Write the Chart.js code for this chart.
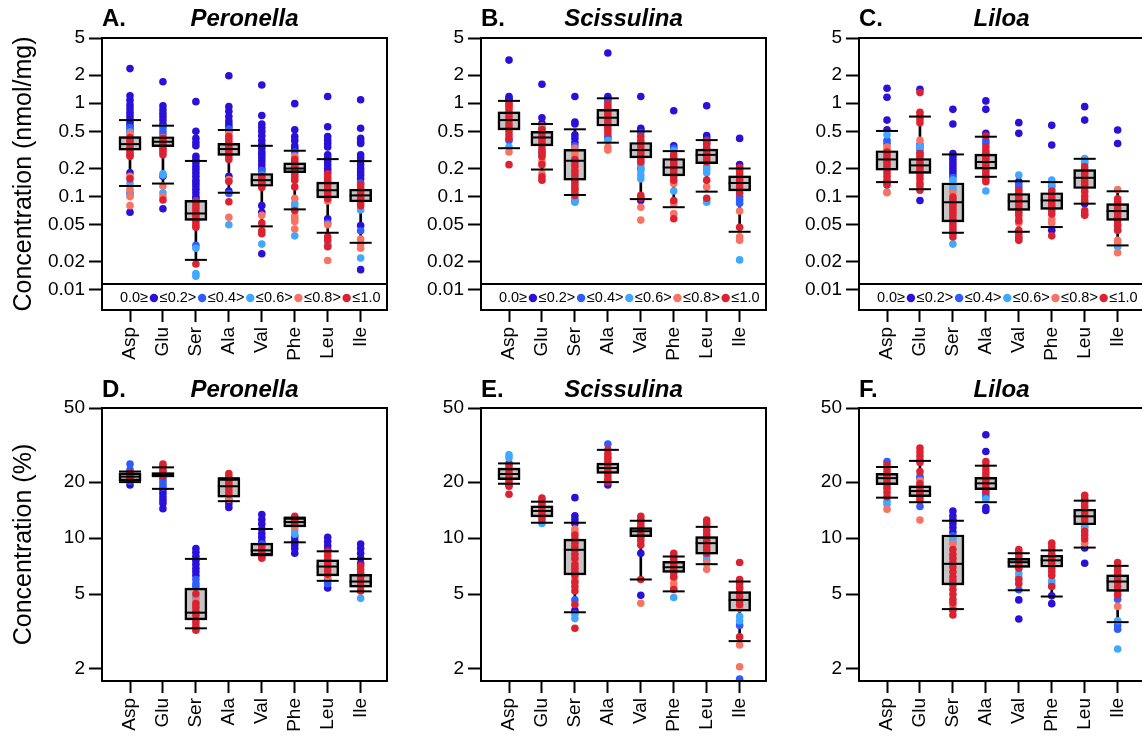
<!DOCTYPE html>
<html>
<head>
<meta charset="utf-8">
<script src="https://cdn.jsdelivr.net/npm/chart.js@4.4.1/dist/chart.umd.min.js"></script>
<style>
  html, body { margin: 0; padding: 0; background: #fff; width: 1142px; height: 737px; overflow: hidden; position: relative; }
  canvas { position: absolute; }
</style>
</head>
<body>
<canvas id="panelA" width="400" height="370" style="left:0px;top:0px"></canvas>
<canvas id="panelB" width="400" height="370" style="left:379px;top:0px"></canvas>
<canvas id="panelC" width="400" height="370" style="left:757px;top:0px"></canvas>
<canvas id="panelD" width="400" height="370" style="left:0px;top:370px"></canvas>
<canvas id="panelE" width="400" height="370" style="left:379px;top:370px"></canvas>
<canvas id="panelF" width="400" height="370" style="left:757px;top:370px"></canvas>
<script>
// ---------------------------------------------------------
// DATA
// ---------------------------------------------------------
const aminoAcids = ['Asp', 'Glu', 'Ser', 'Ala', 'Val', 'Phe', 'Leu', 'Ile'];
const fractionLabels = ['0.0≥', '≤0.2>', '≤0.4>', '≤0.6>', '≤0.8>', '≤1.0'];
const nmolTicks = [5, 2, 1, 0.5, 0.2, 0.1, 0.05, 0.02, 0.01];
const pctTicks = [50, 20, 10, 5, 2];

// box stats per amino acid: [low whisker, Q1, median, Q3, high whisker]
const boxPeronellaNmol = [
  [0.13, 0.315, 0.365, 0.44, 0.66], [0.138, 0.342, 0.387, 0.438, 0.575],
  [0.021, 0.0557, 0.066, 0.0914, 0.241], [0.11, 0.276, 0.323, 0.371, 0.517],
  [0.048, 0.129, 0.15, 0.177, 0.35], [0.073, 0.181, 0.2, 0.23, 0.31],
  [0.041, 0.097, 0.117, 0.143, 0.252], [0.032, 0.088, 0.103, 0.12, 0.24]
];
const boxScissulinaNmol = [
  [0.33, 0.517, 0.66, 0.81, 1.06], [0.195, 0.35, 0.43, 0.5, 0.6],
  [0.104, 0.15, 0.242, 0.32, 0.526], [0.378, 0.57, 0.7, 0.86, 1.13],
  [0.094, 0.26, 0.315, 0.38, 0.5], [0.077, 0.167, 0.205, 0.256, 0.307],
  [0.113, 0.226, 0.28, 0.322, 0.403], [0.042, 0.115, 0.14, 0.167, 0.2]
];
const boxLiloaNmol = [
  [0.143, 0.192, 0.25, 0.31, 0.505], [0.12, 0.177, 0.216, 0.256, 0.72],
  [0.041, 0.0535, 0.087, 0.14, 0.283], [0.163, 0.197, 0.235, 0.285, 0.438],
  [0.042, 0.071, 0.089, 0.108, 0.146], [0.0472, 0.073, 0.091, 0.11, 0.143],
  [0.084, 0.122, 0.159, 0.195, 0.254], [0.03, 0.0557, 0.07, 0.084, 0.114]
];
const boxPeronellaPct = [
  [20.0, 20.3, 21.4, 22.4, 22.8], [18.4, 21.3, 21.9, 22.5, 24.0],
  [3.28, 3.64, 3.98, 5.39, 7.74], [15.8, 16.6, 19.0, 20.9, 21.0],
  [8.1, 8.1, 8.6, 9.4, 11.2], [9.5, 11.5, 12.2, 12.9, 12.9],
  [5.9, 6.27, 7.04, 7.65, 8.5], [5.18, 5.45, 5.85, 6.4, 7.74]
];
const boxScissulinaPct = [
  [19.6, 20.6, 22.1, 23.8, 25.2], [12.1, 13.0, 14.0, 14.9, 15.7],
  [4.0, 6.35, 8.66, 9.88, 12.1], [20.0, 22.3, 23.8, 25.3, 29.8],
  [6.0, 10.2, 10.9, 11.4, 12.4], [5.18, 6.55, 6.98, 7.5, 7.97],
  [7.25, 8.2, 9.4, 10.2, 11.5], [2.8, 4.06, 4.66, 5.17, 5.85]
];
const boxLiloaPct = [
  [16.5, 19.4, 21.0, 22.3, 24.1], [15.6, 16.7, 17.9, 19.1, 26.0],
  [4.16, 5.61, 7.28, 10.4, 12.4], [15.6, 18.2, 19.7, 21.2, 24.5],
  [5.25, 6.96, 7.43, 7.8, 8.3], [4.86, 7.0, 7.6, 8.1, 8.6],
  [8.9, 11.8, 13.1, 14.3, 15.9], [3.54, 5.18, 5.85, 6.36, 7.1]
];

// sample points per amino acid, split by fraction class: [<=0.2, <=0.4, <=0.6, <=0.8, <=1.0]
const ptsPeronellaNmol = [
  [[2.35, 1.2, 1.08, 0.96, 0.88, 0.8, 0.74, 0.68, 0.63, 0.58, 0.18, 0.068], [0.55, 0.52, 0.5, 0.11], [0.49, 0.14, 0.105],
   [0.47, 0.44, 0.165, 0.12, 0.1, 0.08], [0.43, 0.4, 0.37, 0.34, 0.32, 0.3, 0.28, 0.27, 0.155]],
  [[1.7, 0.94, 0.85, 0.78, 0.72, 0.66, 0.6, 0.165, 0.074], [0.55, 0.5, 0.46], [0.175, 0.17, 0.11],
   [0.43, 0.13, 0.1], [0.42, 0.39, 0.36, 0.34, 0.32, 0.3, 0.28, 0.092]],
  [[1.04, 0.5, 0.42, 0.38, 0.35, 0.27, 0.25, 0.23, 0.21, 0.195, 0.18, 0.165, 0.15, 0.14, 0.13, 0.12, 0.11, 0.1, 0.095], [0.09, 0.03], [0.028, 0.015, 0.014],
   [0.085, 0.06], [0.088, 0.08, 0.074, 0.068, 0.063, 0.058, 0.054, 0.05, 0.047, 0.019]],
  [[1.97, 0.92, 0.82, 0.72, 0.65, 0.6, 0.56, 0.165, 0.115], [0.53, 0.5, 0.108], [0.05],
   [0.47, 0.152, 0.06], [0.44, 0.41, 0.38, 0.35, 0.33, 0.31, 0.29, 0.27, 0.25, 0.145, 0.088]],
  [[1.57, 0.74, 0.6, 0.55, 0.5, 0.45, 0.4, 0.36, 0.33, 0.3, 0.28, 0.26, 0.24, 0.22, 0.2, 0.08, 0.068, 0.0244], [0.19, 0.18], [0.17, 0.031],
   [0.14, 0.063], [0.165, 0.155, 0.145, 0.138, 0.13, 0.125, 0.052, 0.043, 0.04]],
  [[0.99, 0.52, 0.44, 0.4, 0.35, 0.33], [0.3], [0.085, 0.078, 0.038],
   [0.27, 0.26, 0.096, 0.062, 0.058, 0.054, 0.045], [0.25, 0.235, 0.22, 0.21, 0.2, 0.19, 0.18, 0.17, 0.16, 0.15, 0.127, 0.071]],
  [[1.18, 0.56, 0.44, 0.4, 0.37, 0.34, 0.28, 0.26, 0.24, 0.22, 0.2, 0.185, 0.058], [0.052, 0.03], [0.031],
   [0.09, 0.05, 0.0207], [0.175, 0.16, 0.15, 0.14, 0.13, 0.12, 0.11, 0.1, 0.095, 0.037, 0.034, 0.029]],
  [[1.09, 0.54, 0.42, 0.39, 0.37, 0.28, 0.26, 0.24, 0.22, 0.2, 0.185, 0.17, 0.155, 0.049, 0.0165], [0.14, 0.043], [0.072, 0.022],
   [0.085, 0.035, 0.031, 0.028], [0.135, 0.125, 0.115, 0.107, 0.1, 0.095, 0.09, 0.08]]
];
const ptsScissulinaNmol = [
  [[2.9, 1.18, 1.12, 1.08], [0.4], [0.34], [0.95, 0.3],
   [1.0, 0.92, 0.85, 0.78, 0.72, 0.66, 0.6, 0.55, 0.5, 0.46, 0.42, 0.22]],
  [[1.6, 0.7, 0.61], [0.54, 0.3], [0.28], [0.57, 0.236, 0.177],
   [0.52, 0.48, 0.44, 0.41, 0.38, 0.35, 0.32, 0.29, 0.267, 0.22, 0.163, 0.15]],
  [[1.18, 0.63, 0.6, 0.46, 0.42, 0.38], [0.35, 0.09], [0.095, 0.087], [0.33, 0.3, 0.27, 0.12],
   [0.25, 0.23, 0.21, 0.19, 0.175, 0.16, 0.15, 0.14, 0.13, 0.12, 0.11, 0.103]],
  [[3.45, 1.18, 1.12], [1.05, 0.44, 0.42], [0.4], [0.86, 0.34, 0.315],
   [0.98, 0.92, 0.85, 0.78, 0.72, 0.66, 0.61, 0.56, 0.52, 0.48]],
  [[1.18, 0.54, 0.51, 0.091], [0.48, 0.2], [0.22, 0.19, 0.17, 0.155], [0.077, 0.056],
   [0.44, 0.4, 0.37, 0.34, 0.31, 0.29, 0.27, 0.25, 0.235, 0.103, 0.097]],
  [[0.83, 0.35], [0.33], [0.31, 0.115], [0.138, 0.084, 0.066],
   [0.28, 0.26, 0.24, 0.225, 0.21, 0.195, 0.18, 0.165, 0.15, 0.091, 0.058]],
  [[0.94, 0.45, 0.42], [0.4, 0.37], [0.21, 0.195, 0.18, 0.091, 0.087], [0.127],
   [0.39, 0.36, 0.33, 0.31, 0.29, 0.27, 0.25, 0.235, 0.15, 0.096]],
  [[0.42, 0.22], [0.1, 0.092, 0.085], [0.021], [0.07, 0.037, 0.034],
   [0.205, 0.19, 0.175, 0.16, 0.15, 0.14, 0.13, 0.12, 0.11, 0.047]]
];
const ptsLiloaNmol = [
  [[1.45, 1.16, 0.66, 0.52], [0.4, 0.37], [0.46, 0.112], [0.34, 0.32, 0.11],
   [0.3, 0.28, 0.26, 0.24, 0.225, 0.21, 0.195, 0.18, 0.165, 0.15, 0.14, 0.133]],
  [[1.41, 0.091], [0.36, 0.33, 0.3], [0.34], [0.4],
   [1.3, 0.8, 0.74, 0.68, 0.62, 0.29, 0.27, 0.25, 0.23, 0.215, 0.2, 0.185, 0.17, 0.155, 0.14, 0.13, 0.117]],
  [[0.86, 0.6, 0.29, 0.27, 0.25, 0.23, 0.215, 0.2, 0.185, 0.17], [0.16], [0.15, 0.14, 0.13, 0.12, 0.031], [0.11],
   [0.099, 0.092, 0.085, 0.079, 0.073, 0.068, 0.063, 0.058, 0.054, 0.05, 0.046, 0.043, 0.04, 0.037]],
  [[1.06, 0.86, 0.476], [0.4, 0.37], [0.115], [0.28, 0.26],
   [0.445, 0.34, 0.31, 0.29, 0.27, 0.25, 0.23, 0.215, 0.2, 0.185, 0.17, 0.155, 0.144]],
  [[0.62, 0.476, 0.145], [0.135, 0.125], [0.17, 0.036], [0.058, 0.052],
   [0.117, 0.108, 0.1, 0.093, 0.086, 0.08, 0.074, 0.068, 0.063, 0.055, 0.0435, 0.04, 0.037, 0.034]],
  [[0.58, 0.357, 0.0435], [0.13], [0.15, 0.14, 0.12], [0.057, 0.052],
   [0.115, 0.106, 0.098, 0.09, 0.083, 0.077, 0.071, 0.065, 0.038]],
  [[0.92, 0.66, 0.084], [0.23], [0.256, 0.24], [0.11],
   [0.208, 0.19, 0.175, 0.16, 0.148, 0.136, 0.125, 0.115, 0.1, 0.091, 0.071, 0.066, 0.063]],
  [[0.517, 0.371], [0.048, 0.044], [0.029], [0.119, 0.034, 0.032, 0.025],
   [0.095, 0.088, 0.081, 0.075, 0.07, 0.065, 0.06, 0.055, 0.05, 0.0435]]
];
const ptsPeronellaPct = [
  [[19.3], [25, 23.3, 20.2], [], [21.0], [22.5, 21.8, 21.2, 20.6]],
  [[18.2, 17.4, 16.7, 16.0, 15.4, 14.4], [21, 20.2, 19.4, 18.8], [], [], [25, 24.3, 23.5, 22.8, 22.2, 21.6]],
  [[8.8, 8.4, 8.0, 7.6, 7.25, 6.9, 6.6, 6.3], [6.0, 5.7, 5.5], [4.8], [4.6], [5.03, 4.45, 4.25, 4.05, 3.85, 3.65, 3.5, 3.35, 3.2]],
  [[16.0, 15.3, 14.6], [], [], [20.0, 16.2], [22.2, 21.3, 20.4, 19.5, 18.7, 17.9, 17.2]],
  [[13.4, 12.6, 11.9, 11.2, 10.6, 10.1, 9.6], [9.3], [], [], [9.0, 8.6, 8.3, 8.0, 7.8]],
  [[10.2, 9.7, 9.2, 8.8, 8.3], [], [11.0, 10.5], [11.5], [13.1, 12.5, 12.0]],
  [[10.1, 9.6, 9.1, 8.7, 5.4], [6.0, 5.7], [], [6.2], [8.5, 8.1, 7.7, 7.3, 7.0, 6.7, 6.4]],
  [[9.3, 8.8, 8.3, 7.8, 7.3], [], [4.75], [5.4], [7.1, 6.8, 6.5, 6.2, 5.9, 5.6, 5.2]]
];
const ptsScissulinaPct = [
  [[], [25.2, 19.4], [28, 27.0], [], [24.5, 23.5, 22.5, 21.6, 20.8, 20.0, 19.0, 17.2]],
  [[], [], [12.0], [], [16.4, 15.8, 15.2, 14.6, 14.0, 13.5, 13.0, 12.5]],
  [[16.5, 13.2, 12.6, 12.0, 4.1], [4.66], [3.9, 3.7], [11.2, 10.8, 7.5, 6.0],
   [10.4, 9.9, 9.4, 9.0, 8.6, 8.2, 7.8, 7.2, 6.9, 6.6, 6.3, 5.8, 5.5, 5.2, 4.4, 3.28]],
  [[19.3], [32], [], [27], [29.8, 28.3, 27.0, 25.8, 24.6, 23.5, 22.5, 21.6, 20.7, 20.0]],
  [[8.3, 4.94], [], [], [4.47], [13.1, 12.6, 12.1, 11.6, 11.1, 10.6, 10.1, 9.7, 9.2, 6.0]],
  [[], [], [4.8], [6.1, 5.7, 5.4], [8.3, 8.0, 7.7, 7.4, 7.1, 6.8, 6.5, 6.2, 5.3]],
  [[], [], [8.0, 7.6], [7.3, 6.8], [12.5, 12.0, 11.5, 11.0, 10.5, 10.1, 9.7, 9.3, 8.9, 8.6, 8.3]],
  [[], [3.4, 1.75], [3.8, 3.6], [4.2, 2.67, 2.04], [7.4, 6.0, 5.7, 5.4, 5.1, 4.85, 4.6, 4.4, 2.95]]
];
const ptsLiloaPct = [
  [[], [25.8], [15.8, 15.2], [14.3], [24.8, 23.8, 22.8, 21.8, 20.9, 20.0, 19.2, 18.4, 17.6, 16.7]],
  [[], [21.5, 20.8, 14.8], [], [20.3, 12.5], [30.5, 29.0, 27.6, 26.3, 25.5, 22.8, 19.6, 18.8, 18.0, 17.3, 16.6, 15.9]],
  [[14.0, 13.2, 12.6, 12.0, 11.4, 10.8], [10.3], [9.9, 9.5], [9.3, 4.3],
   [8.7, 8.2, 7.8, 7.4, 7.0, 6.6, 6.2, 5.9, 5.6, 5.3, 5.0, 4.7, 4.5, 4.1, 3.87]],
  [[35.9, 29.2, 14.6, 14.1], [17.4, 16.8], [16.2], [], [25.8, 24.6, 23.5, 22.4, 21.4, 20.4, 19.5, 18.6, 17.9]],
  [[4.66, 3.68], [5.28], [6.5, 6.2], [], [8.7, 8.4, 8.1, 7.8, 7.5, 7.2, 6.9, 6.0, 5.7]],
  [[4.9, 4.45], [], [5.9, 5.7], [], [9.4, 9.0, 8.6, 8.2, 7.8, 7.5, 7.2, 6.9, 6.6, 6.3, 5.5]],
  [[8.85, 7.34], [11.6], [12.0, 11.3], [9.4], [17.0, 16.3, 15.6, 14.9, 14.3, 13.7, 13.1, 12.5, 10.9, 10.4, 9.9]],
  [[], [3.24, 3.4, 4.7], [3.6, 2.54], [4.3], [7.4, 7.0, 6.7, 6.4, 6.1, 5.8, 5.5, 5.2, 4.95]]
];

// ---------------------------------------------------------
// STYLE
// ---------------------------------------------------------
const FONT = "'Liberation Sans', Arial, Helvetica, sans-serif";
const classColors = ['#2a10d8', '#2e5cff', '#40a8ff', '#f87363', '#dc2231'];

Chart.defaults.font.family = FONT;
Chart.defaults.color = '#000';

// frame, panel title and the fraction key band
const panelDeco = {
  id: 'panelDeco',
  afterDraw(chart, args, opts) {
    const { ctx, chartArea: a } = chart;
    ctx.save();
    ctx.strokeStyle = '#000';
    ctx.lineWidth = 2;
    ctx.strokeRect(a.left, a.top, a.right - a.left, a.bottom - a.top);

    ctx.fillStyle = '#000';
    ctx.textBaseline = 'alphabetic';
    ctx.font = `bold 24px ${FONT}`;
    ctx.textAlign = 'left';
    ctx.fillText(opts.letter, a.left, opts.titleY);
    ctx.font = `italic bold 24px ${FONT}`;
    ctx.textAlign = 'center';
    ctx.fillText(opts.genus, (a.left + a.right) / 2, opts.titleY);

    if (opts.keyBand) {
      const yLine = a.bottom - 26;
      ctx.beginPath();
      ctx.moveTo(a.left, yLine);
      ctx.lineTo(a.right, yLine);
      ctx.stroke();

      const yc = a.bottom - 12;
      let x = a.left + 18;
      ctx.font = `14.5px ${FONT}`;
      ctx.textAlign = 'left';
      ctx.textBaseline = 'middle';
      fractionLabels.forEach((lab, i) => {
        ctx.fillStyle = '#000';
        ctx.fillText(lab, x, yc);
        x += ctx.measureText(lab).width;
        if (i < classColors.length) {
          x += 5.8;
          ctx.fillStyle = classColors[i];
          ctx.beginPath();
          ctx.arc(x, yc, 4.2, 0, Math.PI * 2);
          ctx.fill();
          x += 5.8;
        }
      });
    }
    ctx.restore();
  }
};

// ---------------------------------------------------------
// BUILD ONE PANEL
// ---------------------------------------------------------
function makePanel(id, letter, genus, boxes, pts, cfg) {
  const xs = aminoAcids.map((_, i) => i + 1);
  const datasets = [];

  // whiskers
  datasets.push({
    type: 'bar', data: boxes.map((b, i) => ({ x: xs[i], y: [b[0], b[4]] })),
    backgroundColor: '#000', barThickness: 2, grouped: false, order: 10
  });
  // box fill
  datasets.push({
    type: 'bar', data: boxes.map((b, i) => ({ x: xs[i], y: [b[1], b[3]] })),
    backgroundColor: '#c4c4c4', barThickness: 22, grouped: false, order: 9
  });
  // samples, one dataset per fraction class
  classColors.forEach((color, k) => {
    const data = [];
    pts.forEach((cat, i) => cat[k].forEach(v => data.push({ x: xs[i], y: v })));
    datasets.push({
      type: 'scatter', data, backgroundColor: color, borderWidth: 0,
      pointRadius: 3.8, order: 8 - k
    });
  });
  // box outline
  datasets.push({
    type: 'bar', data: boxes.map((b, i) => ({ x: xs[i], y: [b[1], b[3]] })),
    backgroundColor: 'rgba(0,0,0,0)', borderColor: '#000', borderWidth: 1.8,
    borderSkipped: false, barThickness: 22, grouped: false, order: 2
  });
  // median
  datasets.push({
    type: 'scatter', data: boxes.map((b, i) => ({ x: xs[i], y: b[2] })),
    pointStyle: 'line', pointRadius: 11, borderColor: '#000', borderWidth: 2, order: 1
  });
  // whisker caps
  datasets.push({
    type: 'scatter', data: boxes.flatMap((b, i) => [{ x: xs[i], y: b[0] }, { x: xs[i], y: b[4] }]),
    pointStyle: 'line', pointRadius: 11, borderColor: '#000', borderWidth: 2, order: 0
  });

  return new Chart(document.getElementById(id), {
    type: 'bar',
    data: { datasets },
    options: {
      responsive: false,
      animation: false,
      events: [],
      devicePixelRatio: 1,
      layout: { padding: { top: 38, right: 12, left: 0, bottom: 0 } },
      plugins: {
        legend: { display: false },
        tooltip: { enabled: false },
        title: { display: false },
        panelDeco: { letter, genus, titleY: cfg.titleY, keyBand: cfg.keyBand }
      },
      scales: {
        x: {
          type: 'linear', min: 0.15, max: 8.8, offset: false,
          afterBuildTicks: ax => { ax.ticks = xs.map(v => ({ value: v })); },
          ticks: {
            callback: v => aminoAcids[v - 1] || '',
            autoSkip: false, minRotation: 90, maxRotation: 90, padding: 5,
            font: { size: 19 }, color: '#000'
          },
          grid: { offset: false, drawOnChartArea: false, drawTicks: true, tickLength: 12, tickWidth: 2, tickColor: '#000' },
          border: { display: false },
          afterFit: ax => { ax.height = cfg.xHeight; }
        },
        y: {
          type: 'logarithmic', min: cfg.yMin, max: cfg.yMax,
          afterBuildTicks: ax => { ax.ticks = cfg.yTicks.map(v => ({ value: v })); },
          ticks: {
            callback: v => String(v),
            autoSkip: false, padding: 4, font: { size: 19 }, color: '#000'
          },
          grid: { drawOnChartArea: false, drawTicks: true, tickLength: 13, tickWidth: 2, tickColor: '#000' },
          border: { display: false },
          title: {
            display: !!cfg.yTitle, text: cfg.yTitle || '', color: '#000',
            font: { size: 25 }, padding: { top: 9, bottom: 0 }
          },
          afterFit: ax => { ax.width = 102; }
        }
      }
    },
    plugins: [panelDeco]
  });
}

const topCfg = { yMin: 0.0061, yMax: 5, yTicks: nmolTicks, xHeight: 60, titleY: 26, keyBand: true };
const botCfg = { yMin: 1.71, yMax: 50, yTicks: pctTicks, xHeight: 59, titleY: 27, keyBand: false };

makePanel('panelA', 'A.', 'Peronella', boxPeronellaNmol, ptsPeronellaNmol, { ...topCfg, yTitle: 'Concentration (nmol/mg)' });
makePanel('panelB', 'B.', 'Scissulina', boxScissulinaNmol, ptsScissulinaNmol, topCfg);
makePanel('panelC', 'C.', 'Liloa', boxLiloaNmol, ptsLiloaNmol, topCfg);
makePanel('panelD', 'D.', 'Peronella', boxPeronellaPct, ptsPeronellaPct, { ...botCfg, yTitle: 'Concentration (%)' });
makePanel('panelE', 'E.', 'Scissulina', boxScissulinaPct, ptsScissulinaPct, botCfg);
makePanel('panelF', 'F.', 'Liloa', boxLiloaPct, ptsLiloaPct, botCfg);
</script>
</body>
</html>
